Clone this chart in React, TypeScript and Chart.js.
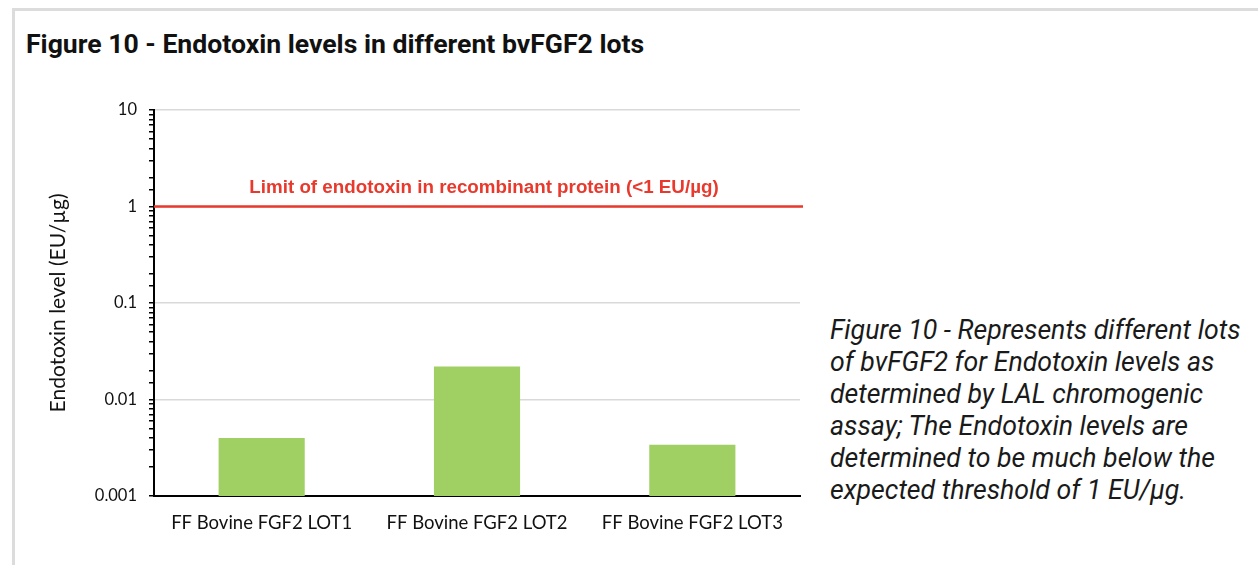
import React, { useEffect, useRef } from "react";
import { Chart, registerables } from "chart.js";

Chart.register(...registerables);

const categories = ["FF Bovine FGF2 LOT1", "FF Bovine FGF2 LOT2", "FF Bovine FGF2 LOT3"];
const endotoxinValues = [0.004, 0.022, 0.0034];
const limitValue = 1;
const limitLabel = "Limit of endotoxin in recombinant protein (<1 EU/µg)";
const yMin = 0.001;
const yMax = 10;
const yTickLabels: Record<string, string> = {
  "10": "10",
  "1": "1",
  "0.1": "0.1",
  "0.01": "0.01",
  "0.001": "0.001",
};
const titleText = "Figure 10 - Endotoxin levels in different bvFGF2 lots";
const captionLines = [
  "Figure 10 - Represents different lots",
  "of bvFGF2 for Endotoxin levels as",
  "determined by LAL chromogenic",
  "assay; The Endotoxin levels are",
  "determined to be much below the",
  "expected threshold of 1 EU/µg.",
];

const RED = "rgb(233,56,44)";
const GREEN = "#a0cf63";
const AXIS_FONT = "Lato, 'Open Sans', sans-serif";

function isMajor(v: number) {
  const l = Math.log10(v);
  return Math.abs(l - Math.round(l)) < 1e-9;
}

const limitPlugin = {
  id: "limitLine",
  afterDatasetsDraw(chart: any) {
    const { ctx, chartArea, scales } = chart;
    const y = scales.y.getPixelForValue(limitValue);
    ctx.save();
    ctx.strokeStyle = RED;
    ctx.lineWidth = 2.5;
    ctx.beginPath();
    ctx.moveTo(chartArea.left, y);
    ctx.lineTo(chartArea.right + 3, y);
    ctx.stroke();
    ctx.fillStyle = RED;
    ctx.font = "bold 18.8px 'Liberation Sans', Arial, sans-serif";
    ctx.textAlign = "center";
    ctx.textBaseline = "middle";
    ctx.fillText(limitLabel, (chartArea.left + chartArea.right) / 2 + 7, y - 19);
    ctx.restore();
  },
};

export default function App() {
  const ref = useRef<HTMLCanvasElement | null>(null);
  useEffect(() => {
    if (!ref.current) return;
    const chart = new Chart(ref.current, {
      type: "bar",
      data: {
        labels: categories,
        datasets: [
          {
            data: endotoxinValues,
            backgroundColor: GREEN,
            borderWidth: 0,
            barPercentage: 0.4,
            categoryPercentage: 1,
          },
        ],
      },
      options: {
        animation: false,
        responsive: false,
        devicePixelRatio: 1,
        layout: { padding: { top: 5, right: 20, left: 0, bottom: 0 } },
        plugins: { legend: { display: false }, tooltip: { enabled: false } },
        scales: {
          x: {
            grid: { display: false, drawTicks: false, tickLength: 0 },
            border: { display: true, color: "#000", width: 2 },
            ticks: {
              color: "#111",
              font: { family: AXIS_FONT, size: 18.5 },
              padding: 16,
              maxRotation: 0,
            },
            afterFit: (s: any) => {
              s.height = 44;
            },
          },
          y: {
            type: "logarithmic",
            min: yMin,
            max: yMax,
            border: { display: true, color: "#000", width: 2 },
            grid: {
              color: (c: any) => (c.tick && isMajor(c.tick.value) ? "#d9d9d9" : "rgba(0,0,0,0)"),
              lineWidth: 1.5,
              tickColor: "#000",
              tickWidth: 1.5,
              tickLength: 5,
            },
            ticks: {
              autoSkip: false,
              color: "#111",
              padding: 12,
              font: { family: AXIS_FONT, size: 16.5 },
              callback: (v: any) => {
                const n = Number(v);
                if (!isMajor(n)) return "";
                const key = String(Number(n.toPrecision(6)));
                return yTickLabels[key] ?? key;
              },
            },
            title: {
              display: true,
              text: "Endotoxin level (EU/µg)",
              color: "#111",
              font: { family: AXIS_FONT, size: 21 },
              padding: { top: 12, bottom: 0 },
            },
            afterFit: (s: any) => {
              s.width = 120;
            },
          },
        },
      },
      plugins: [limitPlugin],
    });
    return () => chart.destroy();
  }, []);

  return (
    <div
      style={{
        position: "fixed",
        left: 0,
        top: 0,
        width: 1258,
        height: 565,
        overflow: "hidden",
        background: "#fff",
      }}
    >
      <div
        style={{
          position: "absolute",
          left: 12,
          top: 8,
          width: 1400,
          height: 700,
          borderTop: "3px solid #dcdcdc",
          borderLeft: "3px solid #dcdcdc",
        }}
      />
      <div
        style={{
          position: "absolute",
          left: 26,
          top: 29,
          fontFamily: "Roboto, sans-serif",
          fontWeight: 700,
          fontSize: 26.6,
          lineHeight: "30px",
          color: "#111",
          whiteSpace: "nowrap",
        }}
      >
        {titleText}
      </div>
      <canvas
        ref={ref}
        width={786}
        height={452}
        style={{ position: "absolute", left: 34, top: 88, width: 786, height: 452 }}
      />
      <div
        style={{
          position: "absolute",
          left: 830,
          top: 314,
          fontFamily: "Roboto, sans-serif",
          fontStyle: "italic",
          fontSize: 26.7,
          lineHeight: "32px",
          color: "#1a1a1a",
          whiteSpace: "nowrap",
        }}
      >
        {captionLines.map((l, i) => (
          <div key={i}>{l}</div>
        ))}
      </div>
    </div>
  );
}
